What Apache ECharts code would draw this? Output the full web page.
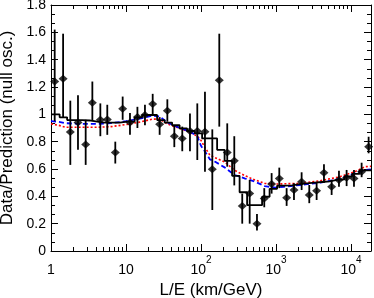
<!DOCTYPE html>
<html><head><meta charset="utf-8">
<script src="https://cdn.jsdelivr.net/npm/echarts@6/dist/echarts.min.js"></script>
<style>html,body{margin:0;padding:0;background:#fff}#c{width:374px;height:298px}</style>
</head><body><div id="c"></div>
<script>
// Data points (L/E in km/GeV, ratio, error bar low/high)
const pointLE = [1.12, 1.45, 1.81, 2.29, 2.90, 3.56, 4.55, 5.63, 7.2, 9.03, 11.3, 14.2, 17.9, 22.7, 28.1, 35.6, 44.1, 56.3, 71.3, 89.3, 113, 141.6, 175.4, 224, 278, 355, 446, 558, 698, 875, 1107, 1387, 1738, 2198, 2780, 3484, 4365, 5523, 6918, 8750, 10970, 13870, 17200];
const pointRatio = [1.24, 1.26, 0.87, 0.94, 0.78, 1.085, 0.96, 0.963, 0.72, 1.04, 0.94, 0.98, 0.995, 1.075, 0.927, 1.026, 0.84, 0.824, 0.878, 0.878, 0.873, 0.598, 1.25, 0.72, 0.66, 0.33, 0.42, 0.20, 0.385, 0.49, 0.53, 0.39, 0.446, 0.507, 0.41, 0.44, 0.573, 0.47, 0.52, 0.536, 0.53, 0.58, 0.763];
const pointLow = [0.95, 0.98, 0.63, 0.74, 0.63, 0.95, 0.84, 0.85, 0.64, 0.96, 0.85, 0.90, 0.92, 0.995, 0.85, 0.946, 0.76, 0.73, 0.73, 0.666, 0.58, 0.30, 0.91, 0.617, 0.48, 0.20, 0.20, 0.15, 0.32, 0.42, 0.46, 0.33, 0.373, 0.446, 0.35, 0.373, 0.50, 0.41, 0.47, 0.475, 0.47, 0.54, 0.715];
const pointHigh = [1.62, 1.59, 1.10, 1.14, 0.96, 1.24, 1.08, 1.07, 0.80, 1.13, 1.01, 1.055, 1.07, 1.15, 0.98, 1.11, 0.92, 0.91, 1.007, 1.08, 1.165, 0.89, 1.59, 0.934, 0.84, 0.42, 0.52, 0.27, 0.46, 0.57, 0.61, 0.46, 0.495, 0.576, 0.483, 0.50, 0.634, 0.52, 0.587, 0.593, 0.593, 0.646, 0.836];

// Best-fit histogram (bin edges and bin contents)
const histEdges = [1, 1.303, 1.641, 2.065, 2.6, 3.273, 4.121, 5.188, 6.531, 8.222, 10.35, 13.03, 16.41, 20.65, 26.0, 32.73, 41.21, 51.88, 65.31, 82.22, 103.5, 130.3, 164.1, 206.5, 260, 327.3, 412.1, 518.8, 653.1, 822.2, 1035, 1303, 1641, 2065, 2600, 3273, 4121, 5188, 6531, 8222, 10350, 13030, 16410, 18500];
const histValues = [1.0, 0.978, 0.958, 0.958, 0.955, 0.946, 0.94, 0.94, 0.94, 0.946, 0.946, 0.978, 0.995, 0.995, 0.958, 0.94, 0.92, 0.897, 0.878, 0.86, 0.824, 0.824, 0.74, 0.66, 0.55, 0.43, 0.335, 0.335, 0.397, 0.455, 0.478, 0.48, 0.49, 0.495, 0.50, 0.505, 0.51, 0.52, 0.525, 0.545, 0.565, 0.59, 0.59];

// Blue dashed curve
const blueLE = [1, 1.259, 1.585, 2.512, 3.981, 6.31, 10, 15.85, 22.39, 28.18, 35.48, 50.12, 70.79, 89.13, 100, 112.2, 131.8, 158.5, 208.9, 281.8, 389.0, 524.8, 707.9, 977.2, 1259, 2089, 3890, 7079, 11220, 15490, 18500];
const blueRatio = [0.95, 0.945, 0.935, 0.93, 0.93, 0.935, 0.95, 0.97, 0.99, 0.985, 0.94, 0.905, 0.875, 0.84, 0.77, 0.73, 0.67, 0.65, 0.61, 0.556, 0.53, 0.507, 0.475, 0.463, 0.47, 0.483, 0.50, 0.527, 0.568, 0.593, 0.598];

// Red dotted curve
const redLE = [1, 1.259, 1.585, 2.512, 3.981, 6.31, 10, 15.85, 22.39, 28.18, 35.48, 50.12, 70.79, 89.13, 100, 112.2, 131.8, 208.9, 281.8, 389.0, 524.8, 707.9, 977.2, 2089, 3890, 7079, 11220, 15490, 18500];
const redRatio = [0.93, 0.92, 0.905, 0.905, 0.905, 0.91, 0.925, 0.945, 0.965, 0.965, 0.93, 0.90, 0.87, 0.84, 0.81, 0.76, 0.70, 0.65, 0.59, 0.55, 0.52, 0.495, 0.49, 0.495, 0.514, 0.543, 0.58, 0.617, 0.62];

// Axis settings
const xMin = 1, xMax = 18500;
const yMin = 0, yMax = 1.8, yStep = 0.2;
const xMinorTicks = [2,3,4,5,6,7,8,9,20,30,40,50,60,70,80,90,200,300,400,500,600,700,800,900,2000,3000,4000,5000,6000,7000,8000,9000];

const FONT = 'Liberation Sans';

function xLabel(v) {
  const e = Math.round(Math.log10(v));
  if (Math.abs(Math.pow(10, e) - v) > 1e-6 * v) return '';
  if (e === 0) return '{b|1}';
  if (e === 1) return '{b|10}';
  return '{b|10}{s|' + e + '}';
}

const chart = echarts.init(document.getElementById('c'), null, {renderer: 'canvas'});
const grid = {left: 51, right: 3, top: 5, bottom: 47, containLabel: false, outerBoundsMode: 'none'};
const axLine = {show: true, lineStyle: {color: '#000', width: 1}};
const minorX = (pos) => ({
  type: 'log', logBase: 10, min: xMin, max: xMax, position: pos,
  axisLine: {show: false}, axisLabel: {show: false}, splitLine: {show: false},
  axisTick: {show: true, inside: true, length: 4, customValues: xMinorTicks, lineStyle: {color: '#000', width: 1}}
});
const option = {
  animation: false,
  backgroundColor: '#fff',
  grid: grid,
  xAxis: [
    {
      type: 'log', logBase: 10, min: xMin, max: xMax, position: 'bottom',
      name: 'L/E (km/GeV)', nameLocation: 'middle', nameGap: 27,
      nameTextStyle: {fontFamily: FONT, fontSize: 17, color: '#000'},
      axisLine: axLine,
      axisTick: {show: true, inside: true, length: 7, lineStyle: {color: '#000', width: 1}},
      splitLine: {show: false},
      axisLabel: {
        margin: 4, showMaxLabel: false, formatter: xLabel, color: '#000',
        rich: {
          b: {fontFamily: FONT, fontSize: 14, lineHeight: 30, color: '#000'},
          s: {fontFamily: FONT, fontSize: 10, lineHeight: 10, verticalAlign: 'top', color: '#000'}
        }
      }
    },
    minorX('bottom'),
    {
      type: 'log', logBase: 10, min: xMin, max: xMax, position: 'top',
      axisLine: axLine, axisLabel: {show: false}, splitLine: {show: false},
      axisTick: {show: true, inside: true, length: 7, lineStyle: {color: '#000', width: 1}}
    },
    minorX('top')
  ],
  yAxis: [
    {
      type: 'value', min: yMin, max: yMax, interval: yStep, position: 'left',
      name: 'Data/Prediction (null osc.)', nameLocation: 'middle', nameGap: 31,
      nameTextStyle: {fontFamily: FONT, fontSize: 17, color: '#000'},
      axisLine: axLine,
      axisTick: {show: true, inside: true, length: 7, lineStyle: {color: '#000', width: 1}},
      minorTick: {show: true, splitNumber: 3, length: 4, lineStyle: {color: '#000', width: 1}},
      splitLine: {show: false}, minorSplitLine: {show: false},
      axisLabel: {margin: 5, fontFamily: FONT, fontSize: 14, color: '#000'}
    },
    {
      type: 'value', min: yMin, max: yMax, interval: yStep, position: 'right',
      axisLine: axLine,
      axisTick: {show: true, inside: true, length: 7, lineStyle: {color: '#000', width: 1}},
      minorTick: {show: true, splitNumber: 3, length: 4, lineStyle: {color: '#000', width: 1}},
      splitLine: {show: false}, minorSplitLine: {show: false},
      axisLabel: {show: false}
    }
  ],
  series: [
    {
      type: 'line', name: 'red', data: redLE.map((x, i) => [x, redRatio[i]]),
      symbol: 'none', smooth: false, z: 2,
      lineStyle: {color: '#ff0000', width: 1.6, type: [2, 2]}
    },
    {
      type: 'line', name: 'blue', data: blueLE.map((x, i) => [x, blueRatio[i]]),
      symbol: 'none', smooth: false, z: 3,
      lineStyle: {color: '#0000ff', width: 1.8, type: [5, 3]}
    },
    {
      type: 'line', name: 'fit', step: 'end',
      data: histEdges.map((x, i) => [x, histValues[Math.min(i, histValues.length - 1)]]),
      symbol: 'none', z: 4,
      lineStyle: {color: '#000', width: 1.8}
    },
    {
      type: 'custom', name: 'err', z: 5,
      data: pointLE.map((x, i) => [x, pointLow[i], pointHigh[i]]),
      encode: {x: 0, y: [1, 2]},
      renderItem: function (params, api) {
        const x = api.value(0);
        const lo = api.coord([x, api.value(1)]);
        const hi = api.coord([x, api.value(2)]);
        return {type: 'line', shape: {x1: lo[0], y1: lo[1], x2: hi[0], y2: hi[1]},
          style: {stroke: '#000', lineWidth: 1.8}};
      }
    },
    {
      type: 'scatter', name: 'data', z: 6,
      data: pointLE.map((x, i) => [x, pointRatio[i]]),
      symbol: 'diamond', symbolSize: [9, 8],
      itemStyle: {color: '#000'}
    }
  ]
};
chart.setOption(option);
</script>
</body></html>
